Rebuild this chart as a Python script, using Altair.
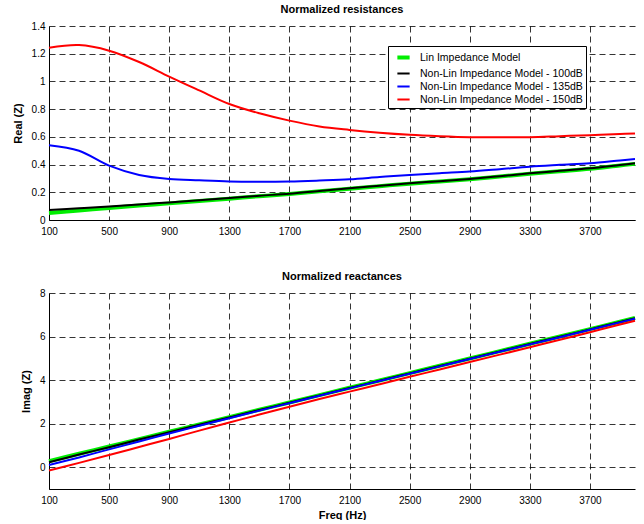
import altair as alt
import pandas as pd

# Frequency grid (Hz)
freq = [100, 300, 500, 700, 900, 1100, 1300, 1500, 1700, 1900, 2100,
        2300, 2500, 2700, 2900, 3100, 3300, 3500, 3700, 3900, 4000]

series_names = [
    "Lin Impedance Model",
    "Non-Lin Impedance Model - 100dB",
    "Non-Lin Impedance Model - 135dB",
    "Non-Lin Impedance Model - 150dB",
]
series_colors = ["#00ee00", "#000000", "#0000ff", "#ff0000"]
series_widths = [4, 2, 2, 2]

# Normalized resistance, Real(Z)
real_lin = [0.05, 0.068, 0.087, 0.104, 0.12, 0.137, 0.154, 0.172, 0.188, 0.207, 0.226,
            0.244, 0.262, 0.278, 0.294, 0.314, 0.334, 0.352, 0.37, 0.394, 0.405]
real_100 = [0.072, 0.085, 0.098, 0.112, 0.127, 0.142, 0.158, 0.175, 0.19, 0.21, 0.229,
            0.247, 0.265, 0.28, 0.296, 0.316, 0.337, 0.355, 0.373, 0.397, 0.409]
real_135 = [0.54, 0.50, 0.392, 0.325, 0.296, 0.286, 0.278, 0.276, 0.278, 0.285, 0.294,
            0.31, 0.325, 0.338, 0.35, 0.367, 0.385, 0.398, 0.41, 0.43, 0.44]
real_150 = [1.243, 1.262, 1.222, 1.14, 1.035, 0.935, 0.837, 0.77, 0.717, 0.675, 0.65,
            0.63, 0.615, 0.605, 0.598, 0.597, 0.598, 0.605, 0.612, 0.62, 0.625]

# Normalized reactance, Imag(Z)
imag_lin = [0.28, 0.62, 0.95, 1.29, 1.63, 1.96, 2.30, 2.64, 2.97, 3.31, 3.65,
            3.98, 4.32, 4.66, 4.99, 5.33, 5.67, 6.00, 6.34, 6.68, 6.85]
imag_100 = [0.23, 0.58, 0.92, 1.27, 1.61, 1.95, 2.29, 2.63, 2.96, 3.30, 3.64,
            3.97, 4.31, 4.65, 4.98, 5.32, 5.66, 5.99, 6.33, 6.67, 6.84]
imag_135 = [0.10, 0.45, 0.82, 1.18, 1.55, 1.90, 2.25, 2.60, 2.94, 3.28, 3.62,
            3.96, 4.29, 4.63, 4.97, 5.30, 5.64, 5.97, 6.31, 6.65, 6.82]
imag_150 = [-0.15, 0.20, 0.56, 0.93, 1.30, 1.68, 2.05, 2.42, 2.78, 3.13, 3.47,
            3.81, 4.15, 4.49, 4.83, 5.17, 5.51, 5.85, 6.20, 6.55, 6.73]

x_ticks = [100, 500, 900, 1300, 1700, 2100, 2500, 2900, 3300, 3700]
real_ticks = [0, 0.2, 0.4, 0.6, 0.8, 1.0, 1.2, 1.4]
imag_ticks = [0, 2, 4, 6, 8]

FONT = "Liberation Sans"


def long_table(columns):
    rows = []
    for order, (name, vals) in enumerate(zip(series_names, columns)):
        for f, v in zip(freq, vals):
            rows.append({"freq": f, "value": v, "series": name, "order": order})
    return pd.DataFrame(rows)


real_df = long_table([real_lin, real_100, real_135, real_150])
imag_df = long_table([imag_lin, imag_100, imag_135, imag_150])

W = 586
H_TOP = 194
H_BOT = 196

color_scale = alt.Scale(domain=series_names, range=series_colors)
width_scale = alt.Scale(type="ordinal", domain=series_names, range=series_widths)

x_scale = alt.Scale(domain=[100, 4000], nice=False, zero=False)


def x_axis(title):
    kw = dict(values=x_ticks, format="d", labelFontSize=10, labelFont=FONT,
              labelColor="#000", tickSize=0, labelPadding=6,
              domainColor="#000", domainWidth=1,
              grid=True, gridColor="#000", gridDash=[6, 4], gridWidth=0.8,
              labelFlush=False)
    if title:
        kw.update(title=title, titleFont=FONT, titleFontSize=11,
                  titleFontWeight="bold", titleColor="#000", titlePadding=4)
    else:
        kw.update(title=None)
    return alt.Axis(**kw)


def y_axis(title, values):
    return alt.Axis(values=values, format="~g", title=title, titleFont=FONT,
                    titleFontSize=11, titleFontWeight="bold", titleColor="#000",
                    titlePadding=8, labelFontSize=10, labelFont=FONT,
                    labelColor="#000", tickSize=0, labelPadding=4,
                    domainColor="#000", domainWidth=1,
                    grid=True, gridColor="#000", gridDash=[6, 4], gridWidth=0.8)


legend = alt.Legend(
    title=None, orient="none", legendX=339, legendY=20,
    symbolType="stroke", symbolSize=150, symbolOffset=4, labelOffset=8,
    labelFont=FONT, labelFontSize=10.5, labelColor="#000",
    fillColor="white", strokeColor="#000", padding=3, cornerRadius=0,
    rowPadding=0, labelLimit=400,
)

top = alt.Chart(real_df).mark_line(interpolate="catmull-rom").encode(
    x=alt.X("freq:Q", axis=x_axis(None), scale=x_scale),
    y=alt.Y("value:Q", scale=alt.Scale(domain=[0, 1.4], nice=False),
            axis=y_axis("Real (Z)", real_ticks)),
    color=alt.Color("series:N", scale=color_scale, sort=series_names, legend=legend),
    strokeWidth=alt.StrokeWidth("series:N", scale=width_scale, sort=series_names, legend=legend),
    order="order:Q",
).properties(
    width=W, height=H_TOP,
    title=alt.TitleParams("Normalized resistances", font=FONT, fontSize=11,
                          fontWeight="bold", color="#000", offset=6),
)

bottom = alt.Chart(imag_df).mark_line(interpolate="catmull-rom").encode(
    x=alt.X("freq:Q", axis=x_axis("Freq (Hz)"), scale=x_scale),
    y=alt.Y("value:Q", scale=alt.Scale(domain=[-1, 8], nice=False),
            axis=y_axis("Imag (Z)", imag_ticks)),
    color=alt.Color("series:N", scale=color_scale, sort=series_names, legend=None),
    strokeWidth=alt.StrokeWidth("series:N", scale=width_scale, sort=series_names, legend=None),
    order="order:Q",
).properties(
    width=W, height=H_BOT,
    title=alt.TitleParams("Normalized reactances", font=FONT, fontSize=11,
                          fontWeight="bold", color="#000", offset=6),
)

chart = alt.vconcat(top, bottom, spacing=35).resolve_scale(
    color="independent", strokeWidth="independent"
).properties(
    padding={"left": 12, "top": 4, "right": 0, "bottom": 0},
    background="white",
).configure_view(stroke=None)

chart.save("out.html", embed_options={"renderer": "svg", "actions": False})
